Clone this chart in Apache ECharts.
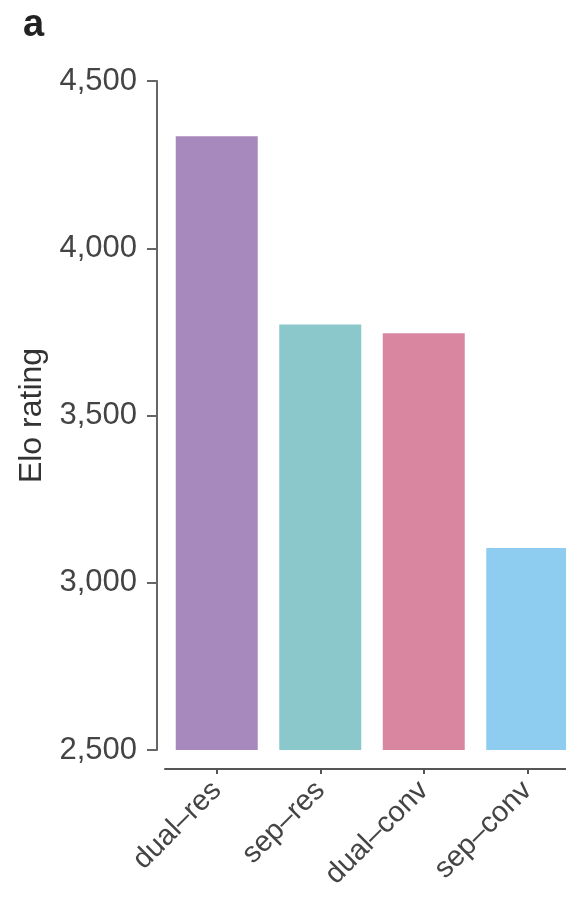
<!DOCTYPE html>
<html><head><meta charset="utf-8">
<script src="https://cdn.jsdelivr.net/npm/echarts@6/dist/echarts.min.js"></script>
<style>html,body{margin:0;padding:0;background:#fff}#c{width:566px;height:904px}</style>
</head><body><div id="c"></div>
<script>
const categories = ['dual–res', 'sep–res', 'dual–conv', 'sep–conv'];
const eloValues = [4335, 3772, 3746, 3104];
const barColors = ['#a889be', '#8ac8cc', '#d986a0', '#8eccf0'];
const yTicks = [2500, 3000, 3500, 4000, 4500];

const chart = echarts.init(document.getElementById('c'));
const font = 'Liberation Sans, Arial, sans-serif';
chart.setOption({
  animation: false,
  title: { text: 'a', left: 18, top: 2, textStyle: { fontFamily: font, fontSize: 38, fontWeight: 'bold', color: '#222' } },
  grid: { left: 165, width: 414, top: 81, bottom: 154, containLabel: false, outerBoundsMode: 'none' },
  xAxis: {
    type: 'category', data: categories, offset: 19,
    axisLine: { show: true, lineStyle: { color: '#555', width: 2 } },
    axisTick: { show: true, alignWithLabel: true, length: 5, lineStyle: { color: '#555', width: 2 } },
    axisLabel: { show: true, rotate: 45, margin: 17, fontFamily: font, fontSize: 29, color: '#444' }
  },
  yAxis: {
    type: 'value', min: 2500, max: 4500, interval: 500, offset: 8,
    name: 'Elo rating', nameLocation: 'middle', nameGap: 108,
    nameTextStyle: { fontFamily: font, fontSize: 32, color: '#333' },
    axisLine: { show: true, lineStyle: { color: '#666', width: 2 } },
    axisTick: { show: true, length: 10, lineStyle: { color: '#666', width: 2 } },
    axisLabel: { margin: 20, fontFamily: font, fontSize: 31, color: '#444',
      formatter: v => yTicks.includes(v) ? v.toLocaleString('en-US') : '' },
    splitLine: { show: false }
  },
  series: [{
    type: 'bar', barWidth: 82,
    data: eloValues.map((v, i) => ({ value: v, itemStyle: { color: barColors[i] } }))
  }]
});
</script></body></html>
